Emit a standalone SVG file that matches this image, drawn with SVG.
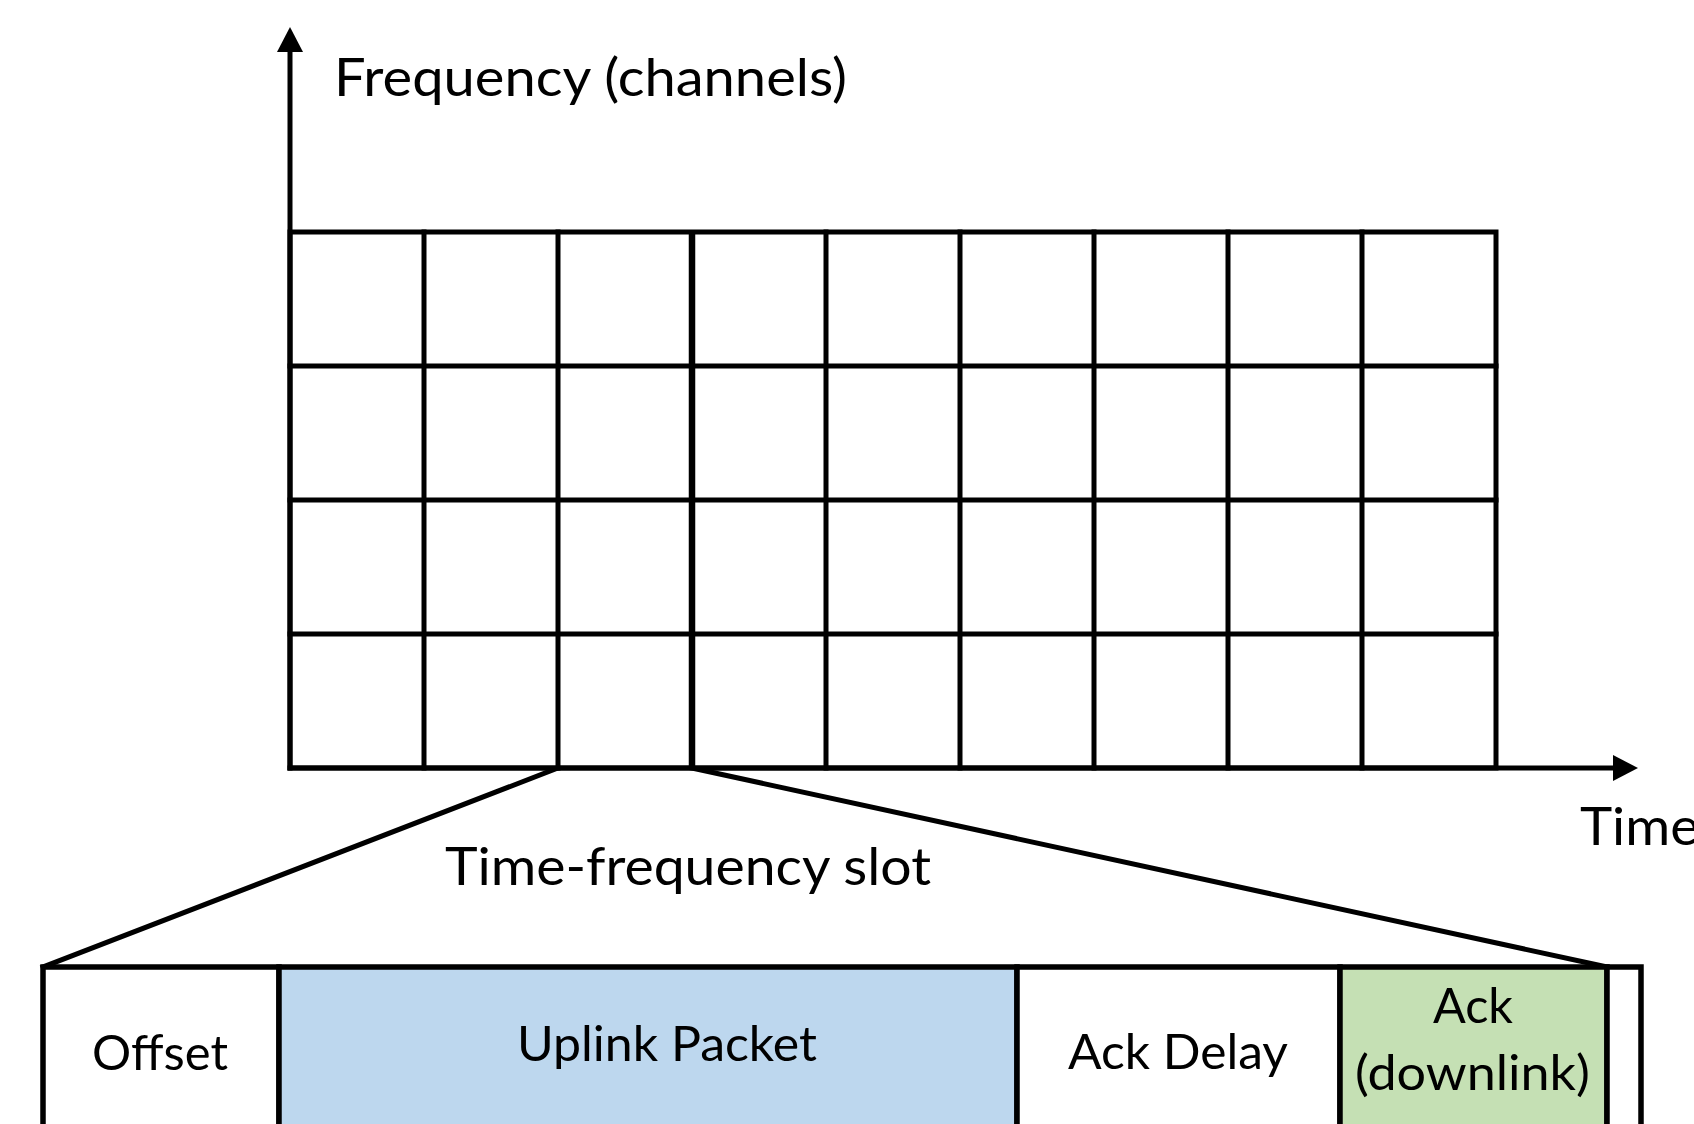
<svg xmlns="http://www.w3.org/2000/svg" width="1694" height="1124" viewBox="0 0 1694 1124">
  <style>
    .ln { stroke: #000; stroke-width: 5; fill: none; stroke-linecap: square; }
    .thick { stroke: #000; stroke-width: 6.5; fill: none; }
    .box { stroke: #000; stroke-width: 5.5; }
    .t { font-family: Lato, "Open Sans", "Liberation Sans", sans-serif; fill: #000; }
    .big { font-size: 53px; }
    .lbl { font-size: 49px; }
  </style>
  <defs>
    <marker id="arr" viewBox="0 0 25 26" refX="0" refY="13" markerWidth="25" markerHeight="26" markerUnits="userSpaceOnUse" orient="auto">
      <path d="M0,0 L25,13 L0,26 Z" fill="#000"/>
    </marker>
  </defs>
  <rect width="1694" height="1124" fill="#fff"/>

  <g id="axes">
    <line x1="290" y1="768" x2="290" y2="52" class="ln" marker-end="url(#arr)"/>
    <line x1="290" y1="768" x2="1613" y2="768" class="ln" marker-end="url(#arr)"/>
    <text class="t big" x="334" y="96" textLength="513" lengthAdjust="spacingAndGlyphs">Frequency (channels)</text>
    <text class="t big" x="1580" y="845" textLength="119" lengthAdjust="spacingAndGlyphs">Time</text>
  </g>

  <g id="grid">
    <rect x="290" y="232" width="1206" height="536" class="ln"/>
    <line x1="290" y1="366" x2="1496" y2="366" class="ln"/>
    <line x1="290" y1="500" x2="1496" y2="500" class="ln"/>
    <line x1="290" y1="634" x2="1496" y2="634" class="ln"/>
    <line x1="424" y1="232" x2="424" y2="768" class="ln"/>
    <line x1="558" y1="232" x2="558" y2="768" class="ln"/>
    <line x1="692" y1="232" x2="692" y2="768" class="thick"/>
    <line x1="826" y1="232" x2="826" y2="768" class="ln"/>
    <line x1="960" y1="232" x2="960" y2="768" class="ln"/>
    <line x1="1094" y1="232" x2="1094" y2="768" class="ln"/>
    <line x1="1228" y1="232" x2="1228" y2="768" class="ln"/>
    <line x1="1362" y1="232" x2="1362" y2="768" class="ln"/>
  </g>

  <g id="connectors">
    <line x1="558" y1="768" x2="43" y2="967" class="ln"/>
    <line x1="692" y1="768" x2="1607" y2="967" class="ln"/>
  </g>

  <text class="t big" x="445" y="885" textLength="486" lengthAdjust="spacingAndGlyphs">Time-frequency slot</text>

  <g id="slot-offset">
    <rect x="43" y="967" width="236" height="170" fill="#fff" class="box"/>
    <text class="t lbl" x="92" y="1070" textLength="136" lengthAdjust="spacingAndGlyphs">Offset</text>
  </g>
  <g id="slot-uplink">
    <rect x="279" y="967" width="738" height="170" fill="#BDD7EE" class="box"/>
    <text class="t lbl" x="517" y="1061" textLength="300" lengthAdjust="spacingAndGlyphs">Uplink Packet</text>
  </g>
  <g id="slot-ackdelay">
    <rect x="1017" y="967" width="323" height="170" fill="#fff" class="box"/>
    <text class="t lbl" x="1068" y="1069" textLength="220" lengthAdjust="spacingAndGlyphs">Ack Delay</text>
  </g>
  <g id="slot-ack">
    <rect x="1340" y="967" width="267" height="170" fill="#C5E0B4" class="box"/>
    <text class="t lbl" x="1433" y="1023" textLength="80" lengthAdjust="spacingAndGlyphs">Ack</text>
    <text class="t lbl" x="1355" y="1090" textLength="235" lengthAdjust="spacingAndGlyphs">(downlink)</text>
  </g>
  <g id="slot-guard">
    <rect x="1607" y="967" width="34" height="170" fill="#fff" class="box"/>
  </g>
</svg>
